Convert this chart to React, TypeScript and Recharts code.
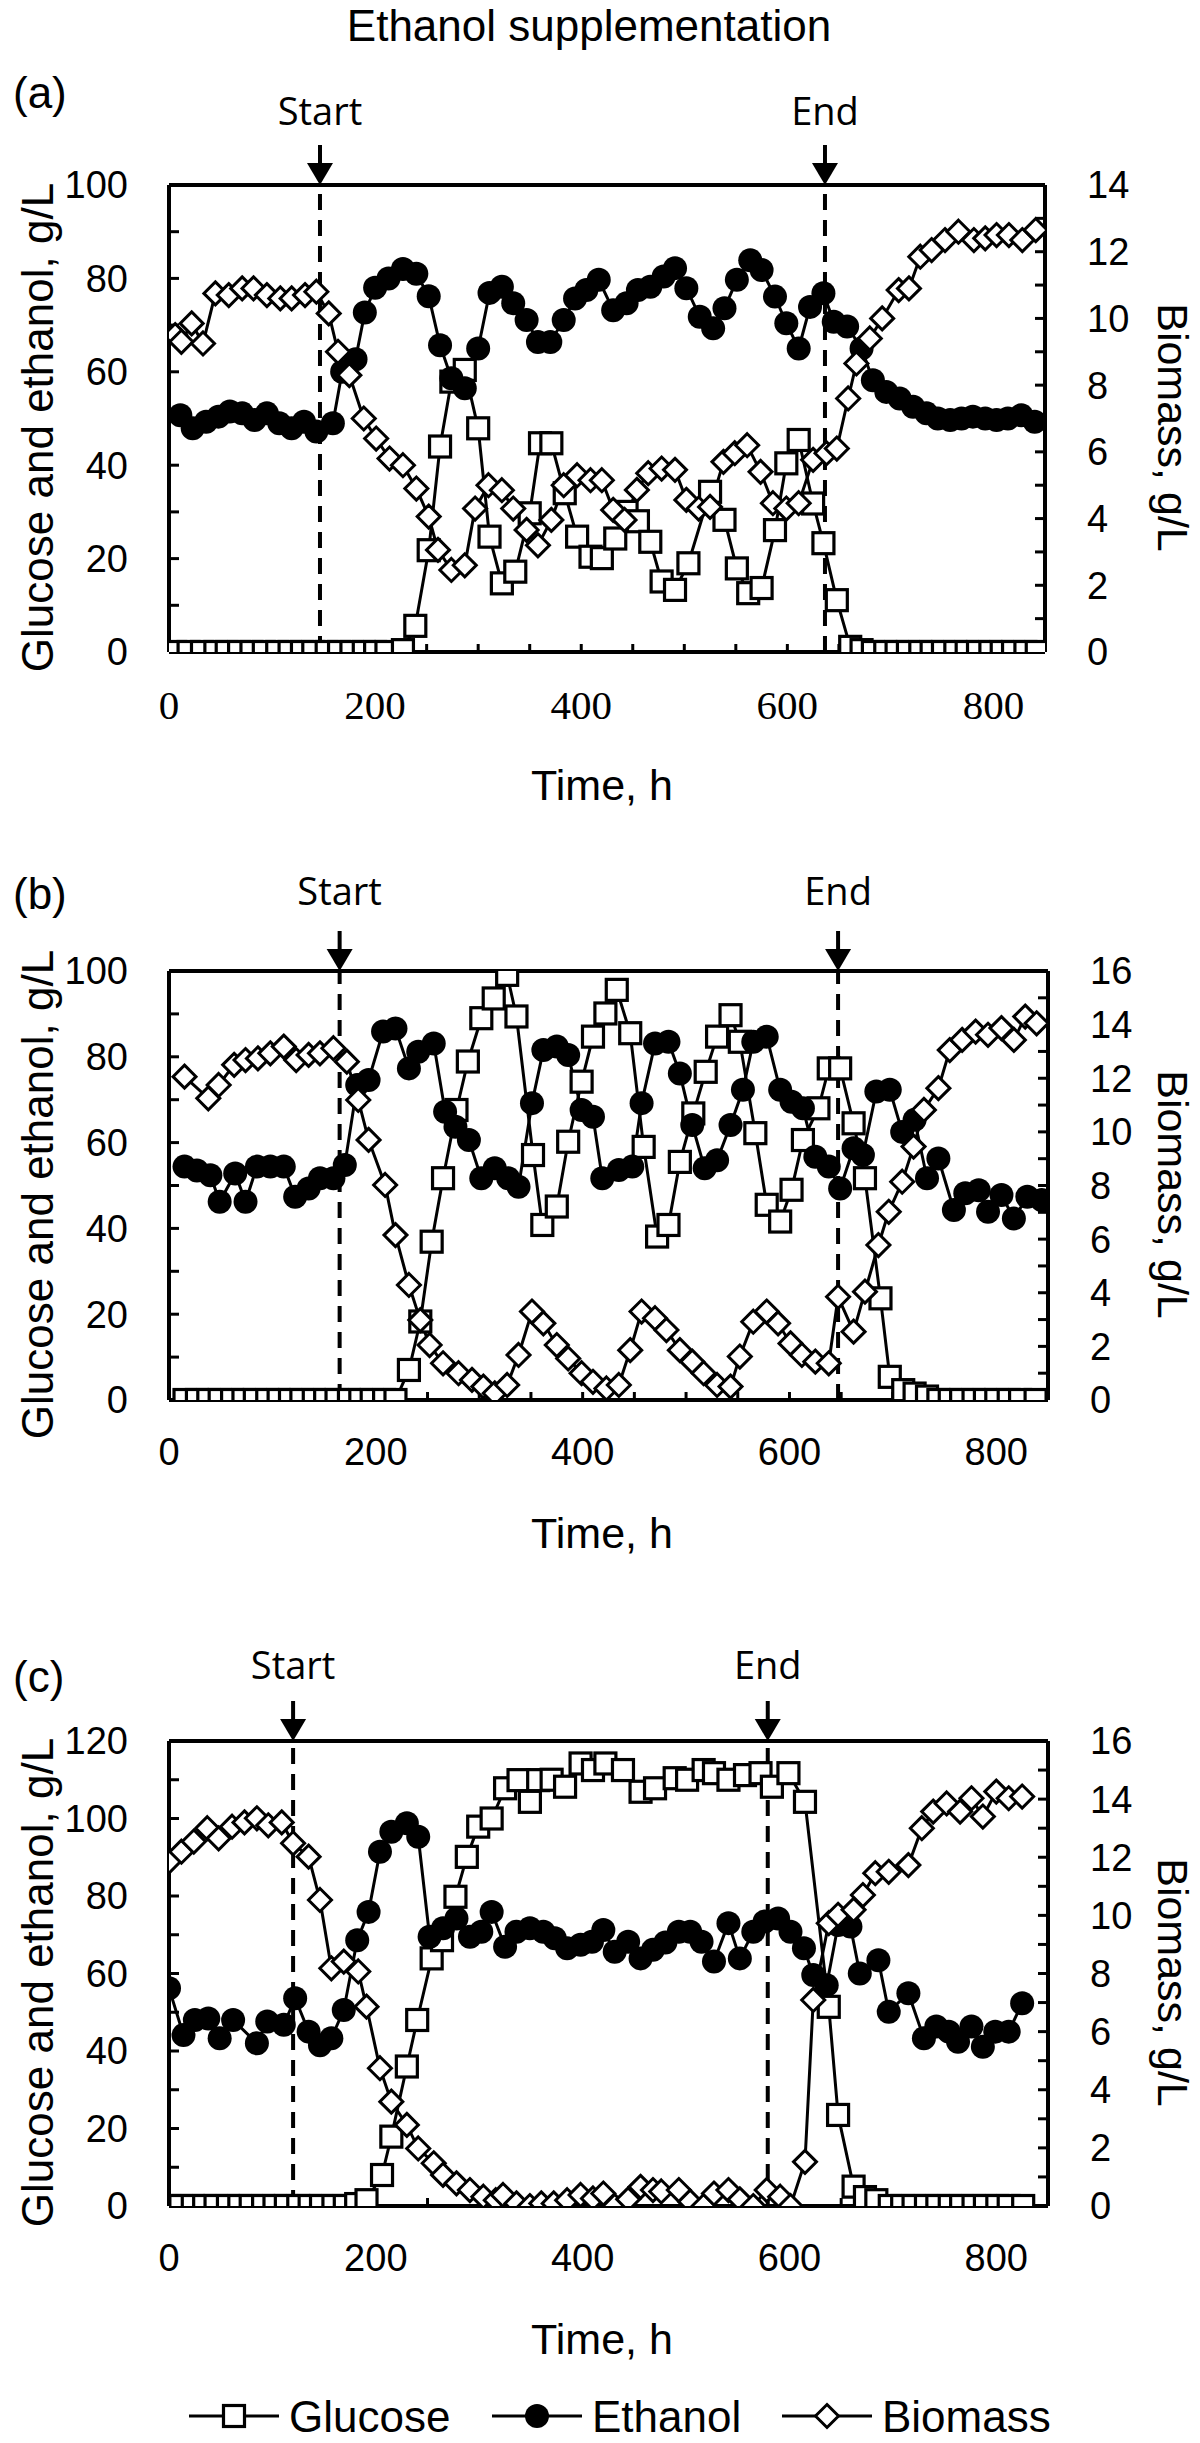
import React from "react";
import { ComposedChart, Line, XAxis, YAxis, ReferenceLine } from "recharts";

const SANS = '"Liberation Sans", Arial, Helvetica, sans-serif';
const SERIF = '"Liberation Serif", "Times New Roman", serif';
const NOTE = '"Open Sans", "DejaVu Sans", sans-serif';

// ---- panel (a) ----
const aGlucoseTime = [6, 19, 32, 45, 56, 68, 80, 92, 105, 117, 129, 140, 153, 165, 177, 189, 200, 211, 227, 239, 252, 263, 274, 287, 300, 311, 323, 336, 350, 360, 371, 384, 396, 409, 420, 433, 444, 455, 467, 478, 491, 504, 525, 539, 551, 562, 575, 588, 599, 611, 625, 635, 648, 661, 672, 683, 695, 706, 717, 729, 740, 751, 763, 774, 785, 797, 808, 819, 831, 842];
const aGlucose = [0, 0, 0, 0, 0, 0, 0, 0, 0, 0, 0, 0, 0, 0, 0, 0, 0, 0, 0.4, 5.6, 21.8, 44, 57.9, 60.4, 47.9, 24.7, 14.7, 17.2, 29.7, 44.7, 44.7, 34, 24.7, 20.4, 20.1, 24.3, 30, 28, 23.6, 15.1, 13.3, 19, 34.3, 28.3, 17.9, 12.6, 13.7, 26.1, 40.4, 45.4, 31.8, 23.3, 11.1, 1.1, 0.4, 0, 0, 0, 0, 0, 0, 0, 0, 0, 0, 0, 0, 0, 0, 0];
const aEthanolTime = [11, 23, 36, 48, 59, 71, 83, 95, 107, 119, 131, 143, 159, 168, 181, 190, 200, 213, 227, 240, 252, 263, 274, 287, 300, 311, 323, 334, 347, 358, 370, 383, 394, 405, 417, 431, 444, 455, 467, 480, 491, 502, 515, 528, 539, 551, 564, 575, 588, 599, 611, 622, 635, 645, 658, 672, 683, 696, 709, 722, 735, 746, 758, 769, 780, 792, 803, 814, 827, 840];
const aEthanol = [50.7, 47.9, 49.3, 50.4, 51.5, 51.1, 49.7, 51.1, 49.0, 47.9, 49.3, 47.2, 49.0, 60.0, 62.7, 72.7, 78, 80, 82, 81, 76.2, 65.7, 58.6, 56.5, 65, 76.9, 78.2, 74.7, 71.1, 66.4, 66.4, 71.1, 75.7, 77.5, 79.7, 73.2, 74.7, 77.5, 78.2, 80.4, 82.2, 77.9, 71.8, 69.3, 73.6, 79.7, 83.9, 81.8, 76.1, 70.4, 65.0, 73.9, 76.8, 70.7, 69.7, 65.0, 58.2, 55.7, 54.3, 52.5, 51.1, 50.0, 49.7, 50.0, 50.4, 50.0, 49.7, 50.0, 50.7, 49.3];
const aBiomassTime = [6, 12, 22, 33, 45, 58, 71, 82, 95, 108, 119, 132, 143, 155, 164, 175, 189, 201, 214, 227, 240, 252, 261, 274, 287, 297, 310, 323, 334, 347, 358, 371, 383, 396, 409, 420, 431, 442, 454, 465, 478, 491, 502, 514, 525, 538, 549, 561, 574, 586, 599, 611, 625, 638, 648, 659, 667, 680, 692, 708, 718, 729, 740, 753, 766, 781, 792, 803, 815, 828, 841];
const aBiomass = [9.5, 9.3, 9.85, 9.25, 10.75, 10.7, 10.9, 10.9, 10.7, 10.6, 10.6, 10.7, 10.8, 10.15, 9.0, 8.3, 7.0, 6.4, 5.8, 5.6, 4.9, 4.06, 3.06, 2.46, 2.6, 4.3, 5.0, 4.85, 4.3, 3.66, 3.2, 3.96, 5.0, 5.3, 5.15, 5.15, 4.26, 3.96, 4.86, 5.36, 5.5, 5.46, 4.56, 4.3, 4.35, 5.7, 5.96, 6.2, 5.4, 4.46, 4.3, 4.46, 5.76, 5.96, 6.1, 7.6, 8.65, 9.4, 10.0, 10.85, 10.9, 11.85, 12.05, 12.35, 12.6, 12.35, 12.4, 12.5, 12.5, 12.35, 12.65];

// ---- panel (b) ----
const bGlucoseTime = [15, 27, 38, 49, 61, 72, 83, 95, 106, 117, 128, 140, 151, 162, 174, 185, 196, 208, 219, 232, 243, 254, 265, 278, 289, 302, 314, 327, 336, 352, 361, 375, 386, 399, 410, 422, 433, 446, 459, 472, 483, 494, 507, 519, 530, 543, 552, 567, 578, 591, 602, 613, 628, 638, 649, 662, 673, 688, 697, 710, 721, 733, 744, 755, 766, 778, 789, 800, 812, 823, 838];
const bGlucose = [0, 0, 0, 0, 0, 0, 0, 0, 0, 0, 0, 0, 0, 0, 0, 0, 0, 0, 0, 7.0, 18.3, 36.9, 51.7, 67.6, 78.9, 89, 93.6, 99.1, 89.4, 57.1, 40.8, 45.1, 60.2, 74.2, 84.7, 90.1, 95.6, 85.5, 59.0, 38.1, 40.8, 55.5, 66.8, 76.5, 84.7, 89.7, 83.5, 62.2, 45.5, 41.6, 49, 60.6, 68, 77.3, 77.3, 64.5, 51.7, 23.7, 5.4, 2.3, 1.5, 0.8, 0, 0, 0, 0, 0, 0, 0, 0, 0];
const bEthanolTime = [15, 27, 40, 49, 64, 74, 85, 98, 111, 122, 135, 146, 159, 170, 182, 193, 207, 219, 232, 241, 256, 267, 277, 290, 302, 315, 328, 338, 351, 362, 375, 386, 399, 410, 419, 435, 448, 457, 470, 483, 494, 506, 518, 530, 543, 555, 565, 578, 591, 602, 613, 625, 638, 649, 662, 671, 684, 697, 709, 721, 733, 744, 759, 770, 783, 792, 805, 817, 830, 844];
const bEthanol = [54.4, 53.5, 52.4, 46.2, 52.8, 46.2, 54.4, 54.4, 54.4, 47.4, 49.3, 51.7, 51.7, 54.8, 73.4, 74.6, 85.9, 86.6, 77.3, 81.2, 83.1, 67.2, 63.7, 60.6, 51.7, 54.0, 51.7, 49.7, 69.2, 81.6, 82.4, 80.4, 67.6, 66.0, 51.7, 53.6, 54.4, 69.2, 83.1, 83.5, 76.1, 64.1, 54.0, 55.9, 64.1, 72.3, 83.5, 84.7, 72.3, 69.5, 68, 56.7, 54.4, 49.3, 58.7, 57.1, 71.9, 72.3, 62.5, 65.3, 51.7, 56.3, 44.3, 48.2, 48.9, 43.9, 47.8, 42.3, 47.4, 46.6];
const bBiomassTime = [15, 38, 48, 63, 74, 86, 98, 111, 123, 135, 146, 159, 172, 183, 193, 209, 219, 232, 243, 252, 265, 280, 293, 304, 315, 327, 338, 351, 362, 375, 386, 399, 410, 423, 435, 446, 457, 470, 481, 494, 506, 517, 530, 543, 552, 565, 578, 589, 601, 612, 625, 638, 647, 662, 673, 686, 696, 709, 720, 730, 744, 755, 767, 780, 792, 805, 817, 828, 839];
const bBiomass = [12.06, 11.25, 11.75, 12.5, 12.68, 12.74, 12.93, 13.18, 12.68, 12.87, 12.93, 13.12, 12.62, 11.19, 9.7, 8.02, 6.15, 4.29, 2.98, 2.05, 1.37, 1.0, 0.75, 0.5, 0.25, 0.56, 1.68, 3.3, 2.86, 2.05, 1.55, 1.0, 0.68, 0.43, 0.56, 1.86, 3.3, 3.05, 2.61, 1.86, 1.43, 1.0, 0.56, 0.5, 1.62, 2.92, 3.3, 2.86, 2.11, 1.68, 1.43, 1.37, 3.85, 2.55, 4.04, 5.78, 7.02, 8.14, 9.45, 10.82, 11.63, 13.05, 13.43, 13.74, 13.62, 13.87, 13.43, 14.3, 14.05];

// ---- panel (c) ----
const cGlucoseTime = [0, 11, 23, 34, 45, 57, 68, 79, 91, 102, 113, 125, 136, 147, 159, 170, 181, 191, 206, 215, 230, 240, 254, 264, 277, 288, 299, 312, 325, 338, 349, 357, 370, 383, 398, 410, 422, 439, 456, 470, 489, 501, 517, 527, 541, 557, 572, 583, 599, 615, 638, 647, 662, 673, 684, 697, 709, 720, 732, 743, 755, 766, 778, 789, 801, 812, 826];
const cGlucose = [0, 0, 0, 0, 0, 0, 0, 0, 0, 0, 0, 0, 0, 0, 0, 0, 0.5, 1.5, 8, 17.9, 36, 48, 63.9, 68.6, 79.8, 90.1, 97.9, 100, 107.8, 109.9, 104.3, 109.9, 110, 108.2, 114.2, 112.5, 114.2, 112.5, 106.9, 107.8, 110.4, 110, 112.5, 111.7, 110, 111.2, 111.7, 108.2, 111.7, 104.3, 51.4, 23.5, 5, 2.3, 1.5, 0, 0, 0, 0, 0, 0, 0, 0, 0, 0, 0, 0];
const cEthanolTime = [0, 14, 25, 38, 49, 62, 85, 95, 111, 122, 135, 146, 157, 169, 182, 193, 204, 215, 230, 241, 252, 265, 278, 291, 302, 312, 325, 336, 349, 362, 373, 385, 398, 409, 420, 431, 444, 456, 468, 480, 493, 504, 515, 527, 541, 552, 565, 576, 589, 601, 614, 623, 636, 647, 659, 668, 686, 696, 715, 730, 742, 754, 763, 776, 787, 799, 812, 825];
const cEthanol = [56.2, 44.1, 48, 48.4, 43.3, 48, 42, 47.6, 46.8, 53.6, 45, 41.5, 43.3, 50.6, 68.6, 75.9, 91.4, 96.6, 98.8, 95.3, 69.5, 71.7, 74.2, 69.5, 70.8, 75.9, 66.9, 70.8, 71.7, 70.8, 69.1, 66.5, 67.4, 68.2, 71.2, 65.6, 68.2, 63.9, 66.1, 68, 70.8, 70.8, 68.2, 63.1, 73, 63.9, 70.8, 73.4, 74.2, 70.8, 66.5, 59.6, 57, 72.5, 72.1, 60, 63.4, 50.1, 54.9, 43.3, 46.3, 45, 42.4, 46.3, 41.1, 45, 45, 52.3];
const cBiomassTime = [0, 12, 24, 37, 48, 61, 73, 85, 96, 109, 120, 135, 146, 157, 169, 183, 191, 204, 215, 230, 241, 256, 265, 278, 291, 304, 316, 323, 336, 349, 360, 372, 385, 398, 410, 420, 431, 444, 456, 468, 476, 493, 504, 517, 527, 541, 552, 565, 578, 591, 601, 615, 623, 638, 647, 662, 671, 683, 696, 715, 728, 739, 752, 765, 776, 787, 800, 812, 825];
const cBiomass = [11.85, 12.19, 12.54, 13.0, 12.65, 13.05, 13.2, 13.34, 13.1, 13.2, 12.48, 12.02, 10.53, 8.18, 8.41, 8.07, 6.86, 4.74, 3.59, 2.79, 1.98, 1.47, 1.07, 0.78, 0.55, 0.32, 0.2, 0.38, 0.09, 0, 0.09, 0.09, 0.2, 0.38, 0.26, 0.43, 0, 0.23, 0.66, 0.55, 0.5, 0.55, 0.15, 0, 0.43, 0.55, 0.23, 0, 0.55, 0.32, 0, 1.52, 7.09, 9.73, 10.02, 10.19, 10.7, 11.45, 11.5, 11.73, 13.0, 13.57, 13.85, 13.57, 14.03, 13.4, 14.26, 14.03, 14.09];

// supplementation start / end (h)
const aEvents = [146.5, 636.5];
const bEvents = [165, 647];
const cEvents = [120, 579];

const zip = (t: number[], v: number[]) => t.map((x, i) => ({ t: x, v: v[i] }));
const steps = (max: number, step: number) => {
  const out: number[] = [];
  for (let k = 0; k * step <= max + 1e-9; k++) out.push(+(k * step).toFixed(3));
  return out;
};

const SquareDot = (p: any) =>
  p.cx == null ? null : (
    <rect key={`sq-${p.index}`} x={p.cx - 10.5} y={p.cy - 10.5} width={21} height={21} fill="#fff" stroke="#000" strokeWidth={3.2} />
  );
const CircleDot = (p: any) =>
  p.cx == null ? null : <circle key={`ci-${p.index}`} cx={p.cx} cy={p.cy} r={12} fill="#000" />;
const DiamondDot = (p: any) =>
  p.cx == null ? null : (
    <path
      key={`di-${p.index}`}
      d={`M${p.cx},${p.cy - 11.5}L${p.cx + 11.5},${p.cy}L${p.cx},${p.cy + 11.5}L${p.cx - 11.5},${p.cy}Z`}
      fill="#fff"
      stroke="#000"
      strokeWidth={3}
    />
  );

function EventMark({ viewBox, text, gap }: any) {
  if (!viewBox) return null;
  const x = viewBox.x;
  const y = viewBox.y;
  return (
    <g>
      <line x1={x} x2={x} y1={y - 40} y2={y - 20} stroke="#000" strokeWidth={4} />
      <path d={`M${x - 13},${y - 22}L${x + 13},${y - 22}L${x},${y}Z`} fill="#000" />
      <text x={x} y={y - gap} textAnchor="middle" fontFamily={NOTE} fontSize={38} fill="#000">
        {text}
      </text>
    </g>
  );
}

interface PanelProps {
  top: number;
  plotTop: number;
  plotBottom: number;
  rightEdge: number;
  leftMax: number;
  rightMax: number;
  glucose: { t: number; v: number }[];
  ethanol: { t: number; v: number }[];
  biomass: { t: number; v: number }[];
  events: number[];
  noteGap: number;
  xFont: string;
  xFontSize: number;
}

function Panel(p: PanelProps) {
  const axisLine = { stroke: "#000", strokeWidth: 4 };
  const tickLine = { stroke: "#000", strokeWidth: 3 };
  const height = p.plotBottom - p.top + 150;
  return (
    <div style={{ position: "absolute", left: 0, top: p.top }}>
      <ComposedChart width={1200} height={height} margin={{ top: p.plotTop - p.top, right: 0, bottom: 0, left: 0 }}>
        <XAxis
          dataKey="t"
          type="number"
          domain={[0, 850]}
          allowDataOverflow
          ticks={steps(800, 50)}
          interval={0}
          tickFormatter={(v: number) => (v % 200 === 0 ? String(v) : "")}
          height={150}
          tickSize={-8}
          tickMargin={46}
          axisLine={axisLine}
          tickLine={tickLine}
          tick={{ fill: "#000", fontSize: p.xFontSize, fontFamily: p.xFont }}
        />
        <YAxis
          yAxisId="left"
          orientation="left"
          width={169}
          domain={[0, p.leftMax]}
          allowDataOverflow
          ticks={steps(p.leftMax, 10)}
          interval={0}
          tickFormatter={(v: number) => (v % 20 === 0 ? String(v) : "")}
          tickSize={-10}
          tickMargin={51}
          axisLine={axisLine}
          tickLine={tickLine}
          tick={{ fill: "#000", fontSize: 38, fontFamily: SANS }}
        />
        <YAxis
          yAxisId="right"
          orientation="right"
          width={1200 - p.rightEdge}
          domain={[0, p.rightMax]}
          allowDataOverflow
          ticks={steps(p.rightMax, 1)}
          interval={0}
          tickFormatter={(v: number) => (v % 2 === 0 ? String(v) : "")}
          tickSize={-10}
          tickMargin={52}
          axisLine={axisLine}
          tickLine={tickLine}
          tick={{ fill: "#000", fontSize: 38, fontFamily: SANS }}
        />
        <ReferenceLine yAxisId="left" y={p.leftMax} stroke="#000" strokeWidth={4} />
        <ReferenceLine
          yAxisId="left"
          x={p.events[0]}
          stroke="#000"
          strokeWidth={4}
          strokeDasharray="16 10"
          label={<EventMark text="Start" gap={p.noteGap} />}
        />
        <ReferenceLine
          yAxisId="left"
          x={p.events[1]}
          stroke="#000"
          strokeWidth={4}
          strokeDasharray="16 10"
          label={<EventMark text="End" gap={p.noteGap} />}
        />
        <Line yAxisId="left" data={p.glucose} dataKey="v" type="linear" stroke="#000" strokeWidth={3} dot={SquareDot} isAnimationActive={false} />
        <Line yAxisId="left" data={p.ethanol} dataKey="v" type="linear" stroke="#000" strokeWidth={3} dot={CircleDot} isAnimationActive={false} />
        <Line yAxisId="right" data={p.biomass} dataKey="v" type="linear" stroke="#000" strokeWidth={3} dot={DiamondDot} isAnimationActive={false} />
      </ComposedChart>
    </div>
  );
}

const panels = [
  { tag: "(a)", tagY: 108, top: 0, plotTop: 185, plotBottom: 652, rightEdge: 1045, leftMax: 100, rightMax: 14, glucose: zip(aGlucoseTime, aGlucose), ethanol: zip(aEthanolTime, aEthanol), biomass: zip(aBiomassTime, aBiomass), events: aEvents, noteGap: 60, xFont: SERIF, xFontSize: 41 },
  { tag: "(b)", tagY: 909, top: 830, plotTop: 971, plotBottom: 1400, rightEdge: 1048, leftMax: 100, rightMax: 16, glucose: zip(bGlucoseTime, bGlucose), ethanol: zip(bEthanolTime, bEthanol), biomass: zip(bBiomassTime, bBiomass), events: bEvents, noteGap: 66, xFont: SANS, xFontSize: 38 },
  { tag: "(c)", tagY: 1692, top: 1620, plotTop: 1741, plotBottom: 2206, rightEdge: 1048, leftMax: 120, rightMax: 16, glucose: zip(cGlucoseTime, cGlucose), ethanol: zip(cEthanolTime, cEthanol), biomass: zip(cBiomassTime, cBiomass), events: cEvents, noteGap: 62, xFont: SANS, xFontSize: 38 },
];

function Overlay() {
  const legendY = 2416;
  const items = [
    { x: 189, label: "Glucose", Dot: SquareDot },
    { x: 492, label: "Ethanol", Dot: CircleDot },
    { x: 782, label: "Biomass", Dot: DiamondDot },
  ];
  return (
    <svg width={1200} height={2443} style={{ position: "absolute", left: 0, top: 0 }} fontFamily={SANS}>
      <text x={589} y={41} textAnchor="middle" fontSize={44} fill="#000">
        Ethanol supplementation
      </text>
      {panels.map((p) => {
        const cy = (p.plotTop + p.plotBottom) / 2 + 9;
        return (
          <g key={p.tag}>
            <text x={13} y={p.tagY} fontSize={44} fill="#000">
              {p.tag}
            </text>
            <text x={53} y={cy} transform={`rotate(-90 53 ${cy})`} textAnchor="middle" fontSize={44} fill="#000">
              Glucose and ethanol, g/L
            </text>
            <text x={1158} y={cy} transform={`rotate(90 1158 ${cy})`} textAnchor="middle" fontSize={43} fill="#000">
              Biomass, g/L
            </text>
            <text x={602} y={p.plotBottom + 148} textAnchor="middle" fontSize={43} fill="#000">
              Time, h
            </text>
          </g>
        );
      })}
      {items.map((it, i) => (
        <g key={it.label}>
          <line x1={it.x} x2={it.x + 90} y1={legendY} y2={legendY} stroke="#000" strokeWidth={3} />
          {it.Dot({ cx: it.x + 45, cy: legendY, index: i })}
          <text x={it.x + 100} y={legendY + 16} fontSize={44} fill="#000">
            {it.label}
          </text>
        </g>
      ))}
    </svg>
  );
}

export default function App() {
  return (
    <div style={{ position: "absolute", left: 0, top: 0, width: 1200, height: 2443, background: "#fff" }}>
      <Overlay />
      {panels.map((p) => (
        <Panel key={p.tag} {...p} />
      ))}
    </div>
  );
}
